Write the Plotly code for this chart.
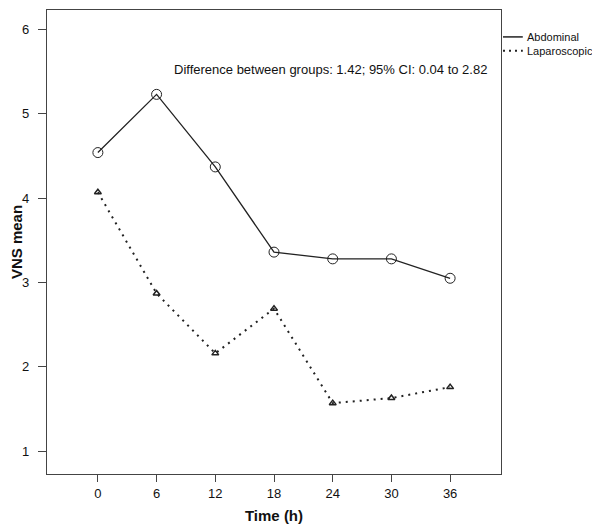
import plotly.graph_objects as go

time_h = [0, 6, 12, 18, 24, 30, 36]
abdominal = [4.54, 5.23, 4.37, 3.36, 3.28, 3.28, 3.05]
laparoscopic = [4.07, 2.87, 2.16, 2.69, 1.57, 1.63, 1.76]
x_ticks = [0, 6, 12, 18, 24, 30, 36]
y_ticks = [1, 2, 3, 4, 5, 6]
series_names = ["Abdominal", "Laparoscopic"]
note = "Difference between groups: 1.42; 95% CI: 0.04 to 2.82"

fig = go.Figure()
fig.add_trace(go.Scatter(x=time_h, y=abdominal, mode="lines+markers", name=series_names[0],
                         line=dict(color="#222222", width=1.3),
                         marker=dict(symbol="circle-open", size=10, color="#222222", line=dict(width=1)),
                         showlegend=False))
fig.add_trace(go.Scatter(x=time_h, y=laparoscopic, mode="lines+markers", name=series_names[1],
                         line=dict(color="#222222", width=2, dash="2px,5px"),
                         marker=dict(symbol="triangle-up-open", size=6, color="#222222", line=dict(width=1.5)),
                         showlegend=False))

# custom legend (outside plot, right)
leg_y = [0.942, 0.912]
leg_dash = ["solid", "2px,4px"]
leg_w = [1.5, 2]
for name, ly, dsh, w in zip(series_names, leg_y, leg_dash, leg_w):
    fig.add_shape(type="line", xref="paper", yref="paper", x0=1.0044, x1=1.048, y0=ly, y1=ly,
                  line=dict(color="#222222", width=w, dash=dsh))
    fig.add_annotation(x=1.053, y=ly, xref="paper", yref="paper", text=name, showarrow=False,
                       xanchor="left", yanchor="middle", font=dict(size=11, color="#111111"))

fig.add_annotation(x=0.625, y=5.53, xref="paper", yref="y", text=note, showarrow=False,
                   font=dict(size=13, color="#111111"), xanchor="center")

axis_common = dict(showline=True, linecolor="#444444", linewidth=1.3, mirror=True, automargin=False,
                   ticks="outside", tickcolor="#444444", showgrid=False, zeroline=False,
                   tickfont=dict(size=13, color="#111111"))
fig.update_xaxes(range=[-5.2, 41.2], tickvals=x_ticks, ticklen=7,
                 title=dict(text="<b>Time (h)</b>", font=dict(size=15, color="#111111"), standoff=10),
                 **axis_common)
fig.update_yaxes(range=[0.73, 6.23], tickvals=y_ticks, ticklen=8, ticklabelstandoff=6,
                 title=dict(text="<b>VNS mean</b>", font=dict(size=15, color="#111111"), standoff=2),
                 **axis_common)

fig.update_layout(width=600, height=523, margin=dict(l=39, r=107, t=2, b=57),
                  paper_bgcolor="white", plot_bgcolor="white", showlegend=False,
                  font=dict(family="Liberation Sans, Arial, sans-serif", color="#111111"))
fig.write_html("out.html")
